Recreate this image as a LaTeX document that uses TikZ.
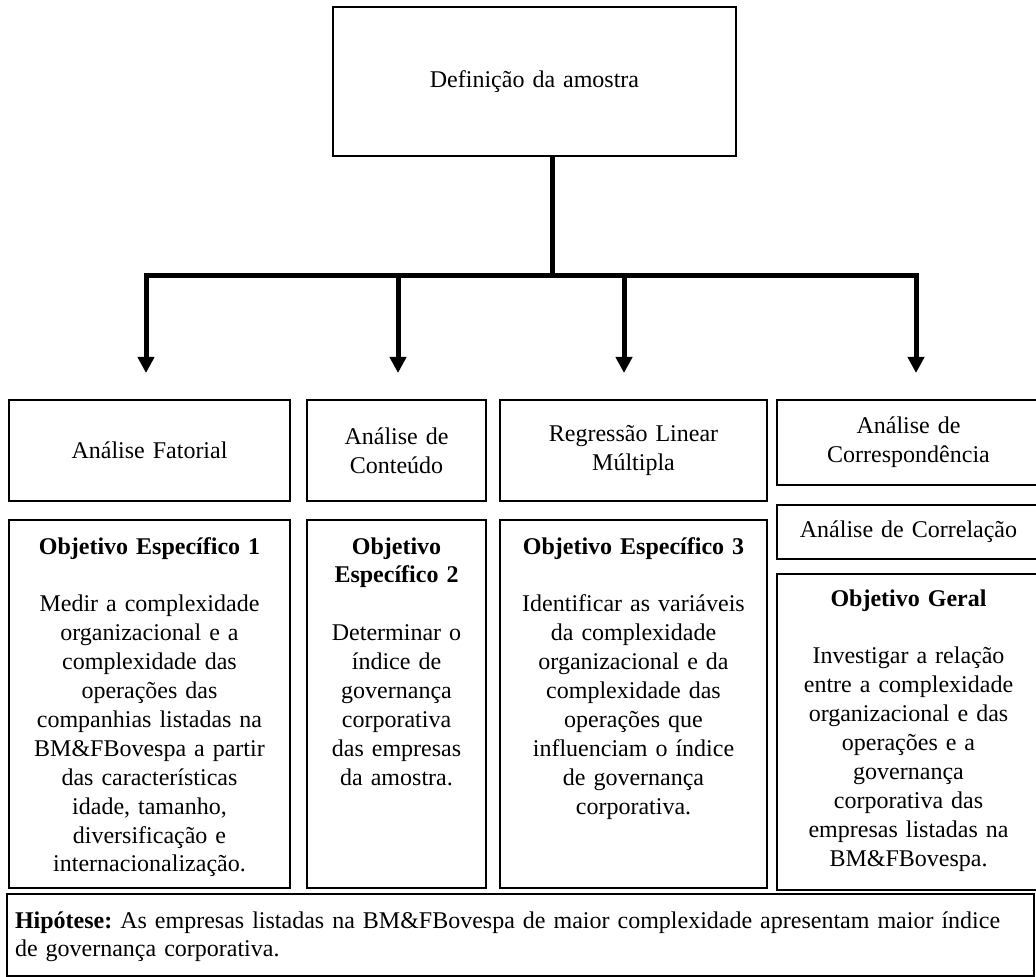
\documentclass[tikz,border=0pt]{standalone}
\usepackage{fontspec}
\setmainfont{Liberation Serif}
\usetikzlibrary{positioning,arrows.meta}
\frenchspacing

\begin{document}
\begin{tikzpicture}[x=1pt,y=-1pt]
        % Styles
        \tikzstyle{box} = [rectangle, draw=black, line width=1pt, inner sep=0pt,
        anchor=north west, align=center, font=\fontsize{12}{14.45}\selectfont]
        \tikzstyle{objbox} = [box, text height=17pt]
        \tikzstyle{link} = [line width=2.5pt]
        \tikzstyle{flow} = [link, -{Triangle[width=8pt,length=8pt]}]

        \useasboundingbox (0,0) rectangle (518,488.5);

        % Nodes
        \node (sample) [box, minimum width=201.5pt, minimum height=74.5pt,
        text width=190pt] at (166,3) {Definição da amostra};

        \node (fatorial) [box, minimum width=140.5pt, minimum height=50.5pt,
        text width=136pt] at (4,199.5) {Análise Fatorial};
        \node (conteudo) [box, minimum width=89.5pt, minimum height=50.5pt,
        text width=85pt, right=7.5pt of fatorial.north east, anchor=north west]
        {Análise de \\ Conteúdo};
        \node (regressao) [box, minimum width=133.5pt, minimum height=50.5pt,
        text width=129pt, right=6pt of conteudo.north east, anchor=north west]
        {Regressão Linear \\ Múltipla};
        \node (corresp) [box, minimum width=131.5pt, minimum height=42.5pt,
        text width=127pt, right=4pt of regressao.north east, anchor=north west]
        {Análise de \\ Correspondência};
        \node (correl) [box, minimum width=131.5pt, minimum height=27pt,
        text width=127pt, below=9pt of corresp.south west, anchor=north west]
        {Análise de Correlação};

        \node (obj1) [objbox, minimum width=140.5pt, text width=136pt,
        text depth=167pt, below=8.5pt of fatorial.south west, anchor=north west]
        {\textbf{Objetivo Específico 1} \\[14.45pt] Medir a complexidade \\
        organizacional e a \\ complexidade das \\ operações das \\
        companhias listadas na \\ BM\&FBovespa a partir \\ das características \\
        idade, tamanho, \\ diversificação e \\ internacionalização.};
        \node (obj2) [objbox, minimum width=89.5pt, text width=85pt,
        text depth=167pt, below=8.5pt of conteudo.south west, anchor=north west]
        {\textbf{Objetivo} \\ \textbf{Específico 2} \\[14.45pt] Determinar o \\
        índice de \\ governança \\ corporativa \\ das empresas \\ da amostra.};
        \node (obj3) [objbox, minimum width=133.5pt, text width=129pt,
        text depth=167pt, below=8.5pt of regressao.south west, anchor=north west]
        {\textbf{Objetivo Específico 3} \\[14.45pt] Identificar as variáveis \\
        da complexidade \\ organizacional e da \\ complexidade das \\
        operações que \\ influenciam o índice \\ de governança \\ corporativa.};
        \node (geral) [box, text height=16pt, minimum width=131.5pt, text width=127pt,
        text depth=142pt, below=6.5pt of correl.south west, anchor=north west]
        {\textbf{Objetivo Geral} \\[14.45pt] Investigar a relação \\
        entre a complexidade \\ organizacional e das \\ operações e a \\
        governança \\ corporativa das \\ empresas listadas na \\ BM\&FBovespa.};

        \node (hipotese) [box, align=left, inner xsep=4pt, text width=505.5pt,
        text height=17pt, text depth=24pt] at (3,446.5)
        {\textbf{Hipótese:} As empresas listadas na BM\&FBovespa de maior complexidade apresentam maior índice \\
        de governança corporativa.};

        % Arrows
        \coordinate (hub) at (276,138);
        \coordinate (d1) at (73,138);
        \coordinate (d2) at (199,138);
        \coordinate (d3) at (312,138);
        \coordinate (d4) at (458,138);
        \coordinate (tips) at (0,186.5);
        \draw[link] (sample.south -| hub) -- (hub);
        \draw[flow] (hub) -- (d1) -- (d1 |- tips);
        \draw[flow] (hub) -- (d4) -- (d4 |- tips);
        \draw[flow] (d2) -- (d2 |- tips);
        \draw[flow] (d3) -- (d3 |- tips);
    \end{tikzpicture}
\end{document}
